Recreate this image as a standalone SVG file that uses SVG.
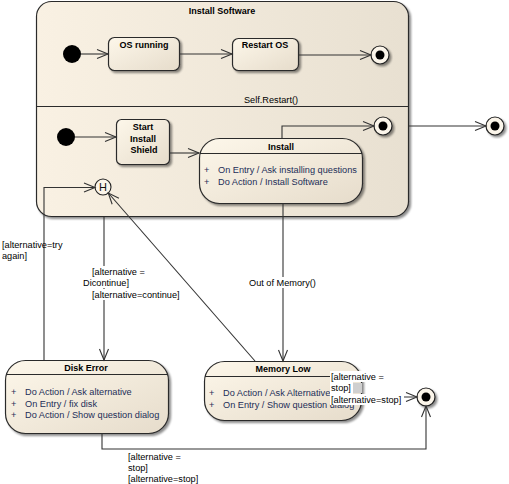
<svg xmlns="http://www.w3.org/2000/svg" width="509" height="484" viewBox="0 0 509 484">
<defs>
<linearGradient id="gNode" x1="0" y1="0" x2="1" y2="1">
<stop offset="0" stop-color="#fdf7ea"/>
<stop offset="1" stop-color="#e6dccb"/>
</linearGradient>
<linearGradient id="gCont" x1="0" y1="0" x2="1" y2="0">
<stop offset="0" stop-color="#f9f1e3"/>
<stop offset="1" stop-color="#e8e0d1"/>
</linearGradient>
<marker id="arr" markerUnits="userSpaceOnUse" markerWidth="14" markerHeight="12" viewBox="0 0 14 12" refX="12" refY="6" orient="auto">
<path d="M1,1.5 L12,6 L1,10.5" fill="none" stroke="#333" stroke-width="1.1"/>
</marker>
<filter id="sh" x="-10%" y="-10%" width="130%" height="130%">
<feGaussianBlur in="SourceAlpha" stdDeviation="1"/>
<feOffset dx="2" dy="2" result="o"/>
<feComponentTransfer><feFuncA type="linear" slope="0.45"/></feComponentTransfer>
<feMerge><feMergeNode/><feMergeNode in="SourceGraphic"/></feMerge>
</filter>
</defs>
<style>
.node{fill:url(#gNode);stroke:#2b2b2b;stroke-width:1.2;filter:url(#sh)}
.cont{fill:url(#gCont);stroke:#2b2b2b;stroke-width:1.2;filter:url(#sh)}
.div{stroke:#2b2b2b;stroke-width:1}
.t{font-family:"Liberation Sans",Arial,sans-serif;font-size:9.2px;fill:#000}
.b{font-weight:bold;text-anchor:middle;font-size:9px}
.a{fill:#1c2e58}
.h{font-family:"Liberation Sans",Arial,sans-serif;font-size:11px;fill:#111;text-anchor:middle}
.conn{fill:none;stroke:#333;stroke-width:1.1;marker-end:url(#arr)}
.init{fill:#000}
.fin{fill:#fbf5ea;stroke:#222;stroke-width:1.2;filter:url(#sh)}
.bg{fill:#fff}
</style>

<g id="install-software">
<rect class="cont" x="36.5" y="1.5" width="372" height="215" rx="15"/>
<line class="div" x1="36.5" y1="106.5" x2="408.5" y2="106.5"/>
<text class="t b" x="222" y="14">Install Software</text>
<text class="t" x="271" y="103" text-anchor="middle">Self.Restart()</text>
</g>

<g id="initial1"><circle class="init" cx="72" cy="54" r="9"/></g>
<g id="os-running">
<rect class="node" x="108.5" y="37.5" width="71" height="33" rx="6"/>
<text class="t b" x="144" y="48">OS running</text>
</g>
<g id="restart-os">
<rect class="node" x="232.5" y="38.5" width="66" height="32" rx="6"/>
<text class="t b" x="265" y="48">Restart OS</text>
</g>
<g id="final1"><circle class="fin" cx="380" cy="55" r="9"/><circle cx="380" cy="55" r="4.5" fill="#000"/></g>

<g id="initial2"><circle class="init" cx="66" cy="137" r="9"/></g>
<g id="start-install-shield">
<rect class="node" x="116.5" y="119.5" width="53" height="45" rx="5"/>
<text class="t b" x="143" y="130">Start</text>
<text class="t b" x="143" y="142">Install</text>
<text class="t b" x="144" y="153">Shield</text>
</g>
<g id="install">
<rect class="node" x="199.5" y="138.5" width="163" height="65" rx="20"/>
<line class="div" x1="200" y1="153.5" x2="362" y2="153.5"/>
<text class="t b" x="281" y="150">Install</text>
<text class="t a" x="204" y="173">+</text><text class="t a" x="218" y="173">On Entry / Ask installing questions</text>
<text class="t a" x="204" y="185">+</text><text class="t a" x="218" y="185">Do Action / Install Software</text>
</g>
<g id="final2"><circle class="fin" cx="383" cy="126" r="9"/><circle cx="383" cy="126" r="4.5" fill="#000"/></g>
<g id="history">
<circle cx="103" cy="187" r="8" fill="#fbf5ea" stroke="#222" stroke-width="1.1"/>
<text class="h" x="103" y="191">H</text>
</g>
<g id="final3"><circle class="fin" cx="495" cy="126" r="9"/><circle cx="495" cy="126" r="4.5" fill="#000"/></g>

<g id="disk-error">
<rect class="node" x="5.5" y="360.5" width="163" height="73" rx="20"/>
<line class="div" x1="6" y1="374.5" x2="168" y2="374.5"/>
<text class="t b" x="86" y="371">Disk Error</text>
<text class="t a" x="11" y="395">+</text><text class="t a" x="25" y="395">Do Action / Ask alternative</text>
<text class="t a" x="11" y="407">+</text><text class="t a" x="25" y="407">On Entry / fix disk</text>
<text class="t a" x="11" y="418">+</text><text class="t a" x="25" y="418">Do Action / Show question dialog</text>
</g>
<g id="memory-low">
<rect class="node" x="204.5" y="361.5" width="157" height="59" rx="20"/>
<line class="div" x1="205" y1="376.5" x2="361" y2="376.5"/>
<text class="t b" x="283" y="372">Memory Low</text>
<text class="t a" x="209" y="396">+</text><text class="t a" x="223" y="396">Do Action / Ask Alternative</text>
<text class="t a" x="209" y="408">+</text><text class="t a" x="223" y="408">On Entry / Show question dialog</text>
</g>
<g id="final4"><circle class="fin" cx="426" cy="397" r="9"/><circle cx="426" cy="397" r="4.5" fill="#000"/></g>

<g id="connectors">
<path class="conn" d="M81,54 H108"/>
<path class="conn" d="M179.5,54 H232"/>
<path class="conn" d="M298.5,55 H371"/>
<path class="conn" d="M75,137 H116"/>
<path class="conn" d="M169.5,153 H199"/>
<path class="conn" d="M282,138 V126 H374"/>
<path class="conn" d="M409,126 H486"/>
<path class="conn" d="M104,217 V360"/>
<path class="conn" d="M283,203.5 V361"/>
<path class="conn" d="M44,360 V187.5 H95"/>
<path class="conn" d="M255,361 L108.3,193"/>
<path class="conn" d="M102,433.5 V449 H426 V406"/>
<path class="conn" d="M361.5,397 H417"/>

<rect class="bg" x="91" y="266" width="54" height="11"/>
<rect class="bg" x="82" y="277" width="49" height="11"/>
<rect class="bg" x="91" y="289" width="92" height="11"/>
<text class="t" x="2" y="248">[alternative=try</text>
<text class="t" x="2" y="259">again]</text>
<text class="t" x="92" y="275">[alternative =</text>
<text class="t" x="83" y="286">Dicontinue]</text>
<text class="t" x="92" y="298">[alternative=continue]</text>

<rect class="bg" x="248" y="277" width="70" height="11"/>
<text class="t" x="249" y="286">Out of Memory()</text>

<text class="t" x="128" y="460">[alternative =</text>
<text class="t" x="128" y="471">stop]</text>
<text class="t" x="128" y="482">[alternative=stop]</text>

<rect class="bg" x="330" y="371" width="56" height="11"/>
<rect class="bg" x="330" y="382" width="23" height="12"/>
<rect x="353" y="383" width="9" height="10" fill="#cfcfcf"/>
<rect class="bg" x="330" y="394" width="74" height="11"/>
<text class="t" x="331" y="380">[alternative =</text>
<text class="t" x="331" y="391">stop]</text>
<text class="t" x="331" y="403">[alternative=stop]</text>
</g>
</svg>
